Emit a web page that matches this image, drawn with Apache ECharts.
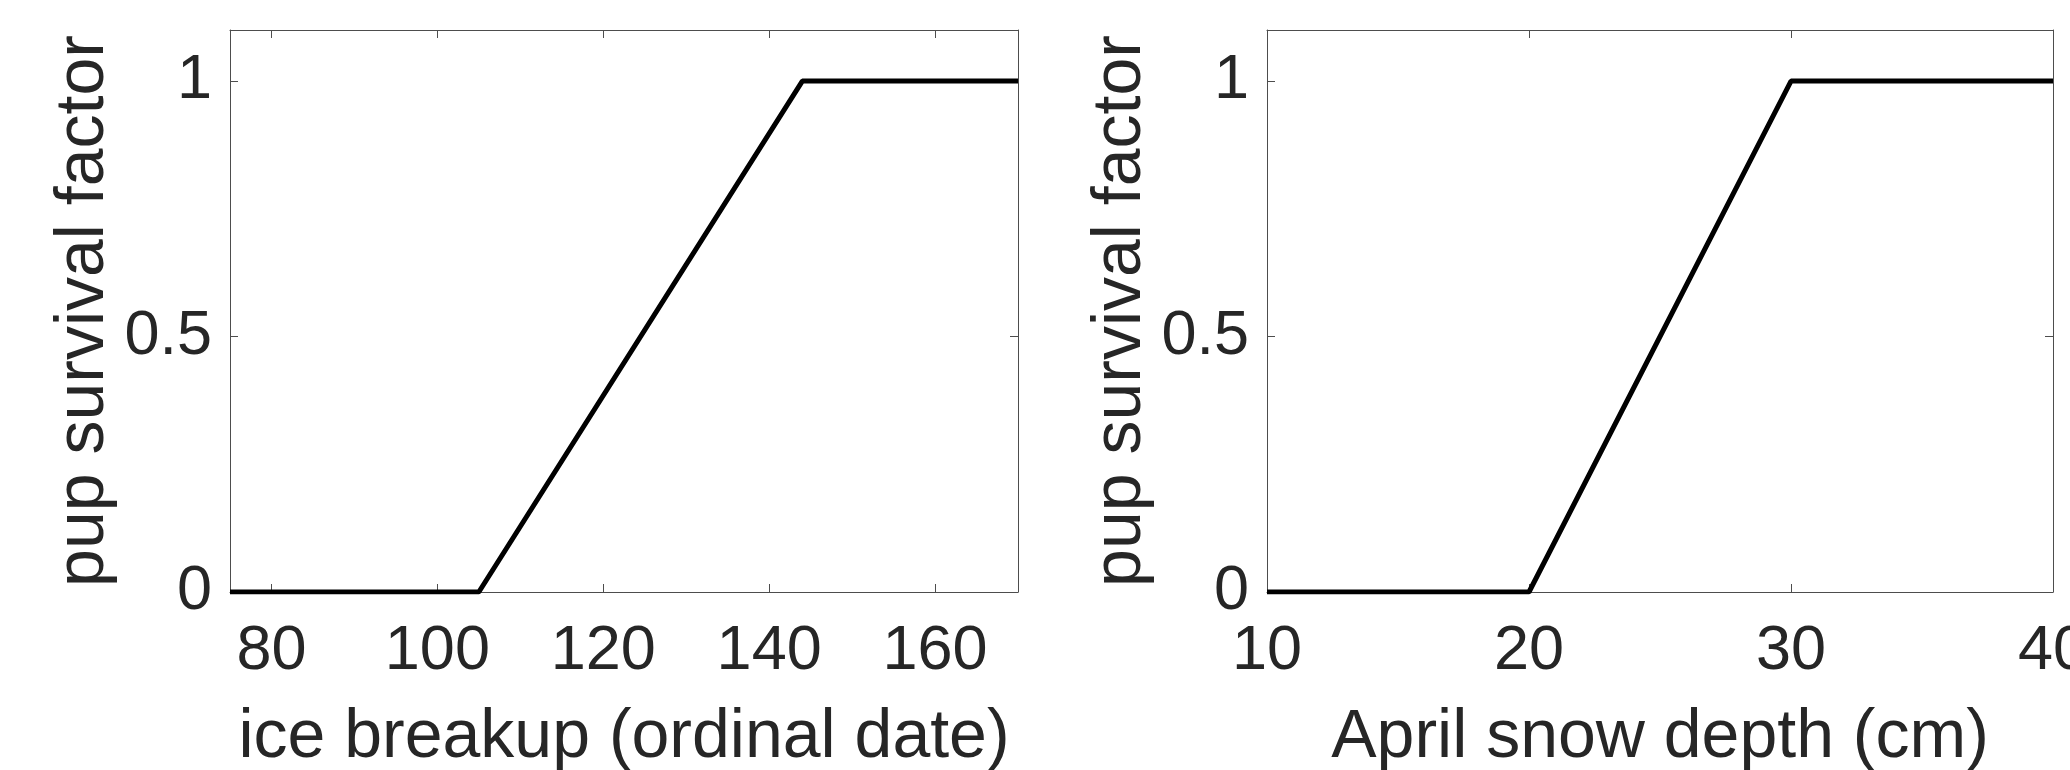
<!DOCTYPE html>
<html>
<head>
<meta charset="utf-8">
<script src="https://cdn.jsdelivr.net/npm/echarts@6/dist/echarts.min.js"></script>
<style>
html, body { margin: 0; padding: 0; background: #fff; }
#chart { width: 2070px; height: 770px; }
</style>
</head>
<body>
<div id="chart"></div>
<script>
// data
var iceDates = [75, 105, 144, 170];
var iceFactor = [0, 0, 1, 1];
var snowDepth = [10, 20, 30, 40];
var snowFactor = [0, 0, 1, 1];
var iceTicks = [80, 100, 120, 140, 160];
var snowTicks = [10, 20, 30, 40];
var factorTicks = [0, 0.5, 1];

var font = "'Liberation Sans', Arial, Helvetica, sans-serif";
var textColor = '#262626';
var boxColor = '#4d4d4d';

function pairs(xs, ys) {
    return xs.map(function (x, i) { return [x, ys[i]]; });
}

// main (labelled) axis
function mainAxis(grid, pos, min, max, ticks, name, gap, margin) {
    return {
        type: 'value',
        gridIndex: grid,
        position: pos,
        min: min,
        max: max,
        name: name,
        nameLocation: 'middle',
        nameGap: gap,
        nameRotate: (pos === 'left') ? 90 : 0,
        nameTextStyle: { fontFamily: font, fontSize: 68, color: textColor },
        axisLine: { show: true, onZero: false, lineStyle: { color: boxColor, width: 1 } },
        axisTick: { show: true, inside: true, length: 8, customValues: ticks, lineStyle: { color: boxColor } },
        axisLabel: {
            show: true, customValues: ticks, margin: margin,
            fontFamily: font, fontSize: 63, color: textColor,
            showMinLabel: true, showMaxLabel: true
        },
        splitLine: { show: false }
    };
}

// mirrored axis on the opposite side (box with ticks, no labels)
function mirrorAxis(grid, pos, min, max, ticks) {
    return {
        type: 'value',
        gridIndex: grid,
        position: pos,
        min: min,
        max: max,
        axisLine: { show: true, onZero: false, lineStyle: { color: boxColor, width: 1 } },
        axisTick: { show: true, inside: true, length: 8, customValues: ticks, lineStyle: { color: boxColor } },
        axisLabel: { show: false },
        splitLine: { show: false }
    };
}

var chart = echarts.init(document.getElementById('chart'));

var option = {
    animation: false,
    backgroundColor: '#ffffff',
    grid: [
        { left: 230, top: 30, width: 788, height: 562, containLabel: false, outerBoundsMode: 'none' },
        { left: 1267, top: 30, width: 786, height: 562, containLabel: false, outerBoundsMode: 'none' }
    ],
    xAxis: [
        mainAxis(0, 'bottom', 75, 170, iceTicks, 'ice breakup (ordinal date)', 112, 28),
        mirrorAxis(0, 'top', 75, 170, iceTicks),
        mainAxis(1, 'bottom', 10, 40, snowTicks, 'April snow depth (cm)', 112, 28),
        mirrorAxis(1, 'top', 10, 40, snowTicks)
    ],
    yAxis: [
        mainAxis(0, 'left', 0, 1.1, factorTicks, 'pup survival factor', 112, 18),
        mirrorAxis(0, 'right', 0, 1.1, factorTicks),
        mainAxis(1, 'left', 0, 1.1, factorTicks, 'pup survival factor', 112, 18),
        mirrorAxis(1, 'right', 0, 1.1, factorTicks)
    ],
    series: [
        {
            type: 'line',
            xAxisIndex: 0,
            yAxisIndex: 0,
            data: pairs(iceDates, iceFactor),
            showSymbol: false,
            lineStyle: { color: '#000000', width: 5 }
        },
        {
            type: 'line',
            xAxisIndex: 2,
            yAxisIndex: 2,
            data: pairs(snowDepth, snowFactor),
            showSymbol: false,
            lineStyle: { color: '#000000', width: 5 }
        }
    ]
};

chart.setOption(option);
</script>
</body>
</html>
